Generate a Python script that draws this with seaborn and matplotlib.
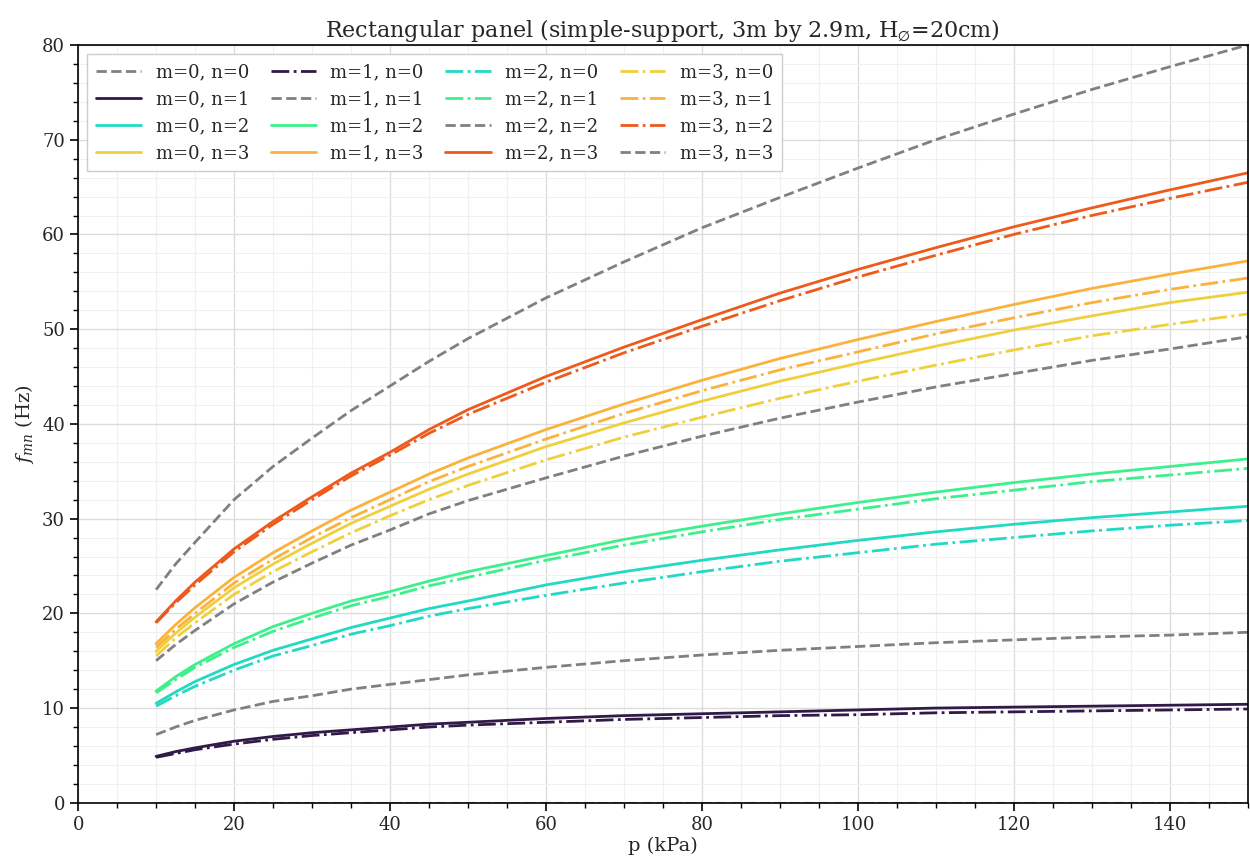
import numpy as np
import pandas as pd
import matplotlib
matplotlib.use("Agg")
import matplotlib.pyplot as plt
import seaborn as sns
from matplotlib.ticker import MultipleLocator

# pressure samples (kPa)
p = [10, 12.5, 15, 20, 25, 30, 35, 40, 45, 50, 60, 70, 80, 90, 100, 110, 120, 130, 140, 150]

# natural frequencies f_mn (Hz)
f = {
    (0, 0): [0] * 20,
    (0, 1): [4.9, 5.4, 5.8, 6.5, 7.0, 7.4, 7.7, 8.0, 8.3, 8.5, 8.9, 9.2, 9.4, 9.6, 9.8, 10.0, 10.1, 10.2, 10.3, 10.4],
    (0, 2): [10.5, 11.7, 12.8, 14.6, 16.1, 17.3, 18.5, 19.5, 20.5, 21.3, 23.0, 24.4, 25.6, 26.7, 27.7, 28.6, 29.4, 30.1, 30.7, 31.3],
    (0, 3): [16.0, 17.9, 19.6, 22.7, 25.2, 27.4, 29.5, 31.3, 33.1, 34.7, 37.6, 40.1, 42.4, 44.5, 46.4, 48.2, 49.9, 51.4, 52.8, 53.9],
    (1, 0): [4.8, 5.2, 5.6, 6.2, 6.7, 7.1, 7.4, 7.7, 8.0, 8.2, 8.5, 8.8, 9.0, 9.2, 9.3, 9.5, 9.6, 9.7, 9.8, 9.9],
    (1, 1): [7.2, 8.0, 8.7, 9.8, 10.7, 11.3, 12.0, 12.5, 13.0, 13.5, 14.3, 15.0, 15.6, 16.1, 16.5, 16.9, 17.2, 17.5, 17.7, 18.0],
    (1, 2): [11.8, 13.3, 14.6, 16.8, 18.6, 20.0, 21.3, 22.3, 23.4, 24.4, 26.1, 27.8, 29.2, 30.5, 31.7, 32.8, 33.8, 34.7, 35.5, 36.3],
    (1, 3): [16.8, 18.8, 20.6, 23.8, 26.4, 28.7, 30.9, 32.8, 34.7, 36.4, 39.4, 42.1, 44.6, 46.9, 48.9, 50.8, 52.6, 54.3, 55.8, 57.2],
    (2, 0): [10.2, 11.3, 12.3, 14.0, 15.5, 16.6, 17.8, 18.7, 19.7, 20.5, 21.9, 23.2, 24.4, 25.5, 26.4, 27.3, 28.0, 28.7, 29.3, 29.8],
    (2, 1): [11.6, 13.0, 14.3, 16.4, 18.1, 19.5, 20.8, 21.8, 22.9, 23.8, 25.6, 27.2, 28.6, 29.9, 31.0, 32.1, 33.0, 33.9, 34.6, 35.3],
    (2, 2): [15.0, 16.7, 18.2, 21.0, 23.3, 25.3, 27.2, 28.8, 30.5, 31.9, 34.3, 36.6, 38.7, 40.6, 42.3, 43.9, 45.3, 46.7, 47.9, 49.2],
    (2, 3): [19.1, 21.3, 23.3, 26.8, 29.7, 32.3, 34.8, 37.0, 39.4, 41.5, 45.0, 48.1, 51.0, 53.8, 56.3, 58.6, 60.8, 62.8, 64.7, 66.5],
    (3, 0): [15.5, 17.4, 19.0, 22.0, 24.4, 26.5, 28.5, 30.3, 32.0, 33.5, 36.2, 38.6, 40.7, 42.7, 44.5, 46.2, 47.8, 49.3, 50.5, 51.6],
    (3, 1): [16.4, 18.3, 20.0, 23.2, 25.7, 28.0, 30.1, 32.0, 33.9, 35.5, 38.4, 41.1, 43.5, 45.7, 47.6, 49.5, 51.2, 52.8, 54.2, 55.4],
    (3, 2): [19.0, 21.1, 23.0, 26.5, 29.4, 32.0, 34.5, 36.7, 39.0, 41.0, 44.4, 47.5, 50.3, 53.0, 55.5, 57.8, 60.0, 62.0, 63.8, 65.5],
    (3, 3): [22.5, 25.2, 27.5, 32.0, 35.5, 38.5, 41.4, 44.0, 46.6, 49.0, 53.3, 57.1, 60.7, 63.9, 67.0, 70.0, 72.7, 75.3, 77.7, 80.0],
}

# one colour per unordered mode pair
pair_colors = {
    (0, 1): "#311a48",
    (0, 2): "#22d9c3",
    (1, 2): "#3ef08c",
    (0, 3): "#efcf3d",
    (1, 3): "#fbb23c",
    (2, 3): "#ee5a1c",
}

sns.set_theme(style="whitegrid")
plt.rcParams["font.family"] = ["DejaVu Serif"]
plt.rcParams["mathtext.fontset"] = "dejavuserif"

fig, ax = plt.subplots(figsize=(12.5, 8.66), dpi=100)

for m in range(4):
    for n in range(4):
        label = f"m={m}, n={n}"
        if m == n:
            color, ls = "gray", "--"
        elif m < n:
            color, ls = pair_colors[(m, n)], "-"
        else:
            color, ls = pair_colors[(n, m)], "-."
        df = pd.DataFrame({"p": p, "f": f[(m, n)]})
        sns.lineplot(data=df, x="p", y="f", color=color, linestyle=ls,
                     linewidth=2, label=label, ax=ax)

ax.set_xlim(0, 150)
ax.set_ylim(0, 80)
ax.xaxis.set_major_locator(MultipleLocator(20))
ax.xaxis.set_minor_locator(MultipleLocator(5))
ax.yaxis.set_major_locator(MultipleLocator(10))
ax.yaxis.set_minor_locator(MultipleLocator(2))
ax.grid(which="major", color="#dcdcdc", linewidth=1.0)
ax.grid(which="minor", color="#f0f0f0", linewidth=0.8)
ax.tick_params(which="major", direction="out", length=6, width=1.2, bottom=True, left=True,
               labelsize=13, color="black")
ax.tick_params(which="minor", direction="out", length=3.5, width=1.0, bottom=True, left=True,
               color="black")
for s in ax.spines.values():
    s.set_color("black")
    s.set_linewidth(1.2)

ax.set_xlabel("p (kPa)", fontsize=14, labelpad=2)
ax.set_ylabel("$f_{mn}$ (Hz)", fontsize=14)
ax.set_title("Rectangular panel (simple-support, 3m by 2.9m, H$_{\\varnothing}$=20cm)",
             fontsize=16)

ax.legend(ncol=4, loc="upper left", fontsize=13, frameon=True, framealpha=1,
          edgecolor="#cccccc", fancybox=False, handlelength=2.5, columnspacing=1.2,
          borderpad=0.5)

fig.subplots_adjust(left=0.0625, right=0.998, top=0.948, bottom=0.073)
fig.savefig("out.png", dpi=100)
